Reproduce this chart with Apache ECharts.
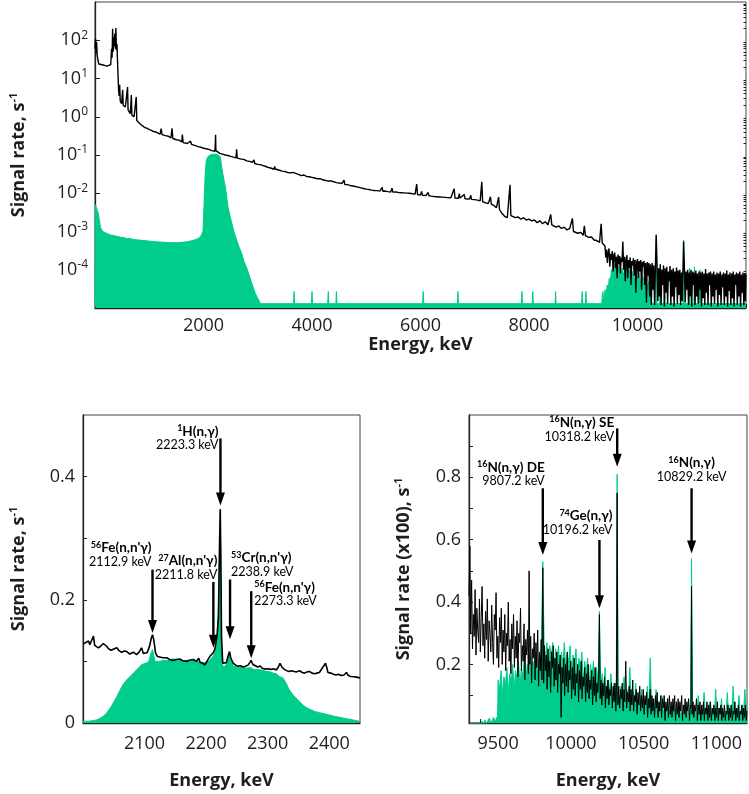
<!DOCTYPE html>
<html><head><meta charset="utf-8">
<script src="https://cdn.jsdelivr.net/npm/echarts@6/dist/echarts.min.js"></script>
<style>html,body{margin:0;padding:0;background:#fff}#c{width:749px;height:794px}</style>
</head><body><div id="c"></div><script>
// ---------- DATA ----------
// Top panel: full spectrum (energy keV, signal rate s^-1)
const topBlack = [[0,60],[10,110],[20,45],[30,90],[40,40],[55,30],[70,24],[90,22],[150,22.5],[220,21],[290,23],[305,60],[315,35],[325,200],[335,50],[345,120],[355,70],[365,150],[375,60],[385,210],[395,55],[405,80],[415,30],[425,12],[435,5],[445,3.5],[455,6.9],[465,2.6],[490,2.2],[510,5.1],[520,2.0],[560,1.8],[590,1.6],[600,6.0],[610,1.5],[650,1.2],[670,3.7],[680,1.1],[720,1.0],[760,3.3],[770,0.8],[810,0.7],[850,0.62],[880,0.65],[920,0.52],[960,0.5],[1000,0.46],[1040,0.44],[1080,0.41],[1120,0.4],[1150,0.37],[1200,0.35],[1220,0.49],[1235,0.34],[1300,0.32],[1350,0.31],[1400,0.28],[1420,0.5],[1435,0.27],[1500,0.25],[1550,0.245],[1600,0.22],[1610,0.34],[1625,0.21],[1700,0.2],[1760,0.23],[1780,0.19],[1850,0.175],[1900,0.165],[1950,0.16],[2000,0.15],[2050,0.146],[2100,0.14],[2150,0.13],[2210,0.125],[2218,0.2],[2223,0.34],[2228,0.13],[2235,0.12],[2300,0.11],[2350,0.105],[2400,0.1],[2450,0.097],[2500,0.092],[2550,0.088],[2600,0.085],[2610,0.14],[2622,0.083],[2700,0.078],[2750,0.076],[2800,0.07],[2850,0.068],[2900,0.064],[2930,0.075],[2945,0.06],[3000,0.057],[3050,0.056],[3100,0.053],[3150,0.05],[3200,0.047],[3250,0.045],[3300,0.042],[3310,0.05],[3325,0.043],[3400,0.04],[3450,0.038],[3500,0.037],[3550,0.035],[3600,0.034],[3650,0.035],[3700,0.033],[3750,0.031],[3800,0.029],[3850,0.03],[3900,0.0275],[3950,0.027],[4000,0.026],[4050,0.025],[4100,0.024],[4150,0.024],[4200,0.0225],[4250,0.0215],[4300,0.021],[4350,0.021],[4400,0.02],[4450,0.019],[4500,0.0186],[4550,0.0178],[4590,0.022],[4605,0.017],[4650,0.0168],[4700,0.016],[4750,0.0155],[4800,0.015],[4850,0.0145],[4900,0.0138],[4950,0.0133],[5000,0.0128],[5050,0.0125],[5100,0.0121],[5150,0.0118],[5200,0.0117],[5250,0.0114],[5294,0.0142],[5305,0.0113],[5350,0.0114],[5400,0.011],[5450,0.0108],[5475,0.0135],[5490,0.0107],[5550,0.0108],[5600,0.0104],[5650,0.0103],[5700,0.0102],[5750,0.0101],[5800,0.01],[5850,0.0097],[5900,0.0095],[5930,0.0174],[5945,0.0093],[6000,0.009],[6020,0.0112],[6035,0.0089],[6100,0.0087],[6140,0.0105],[6155,0.0086],[6200,0.0084],[6250,0.0082],[6300,0.0081],[6350,0.008],[6400,0.0079],[6450,0.0078],[6500,0.0077],[6560,0.0076],[6620,0.0132],[6635,0.0075],[6700,0.0074],[6715,0.0098],[6730,0.0075],[6806,0.0093],[6820,0.0072],[6850,0.0071],[6900,0.007],[6927,0.0088],[6940,0.0069],[7000,0.0068],[7050,0.0066],[7100,0.0063],[7130,0.02],[7145,0.006],[7200,0.0056],[7250,0.0054],[7290,0.0081],[7305,0.0052],[7350,0.0048],[7400,0.0042],[7440,0.0079],[7455,0.0038],[7500,0.003],[7550,0.0025],[7600,0.0023],[7650,0.0166],[7665,0.0026],[7700,0.0026],[7750,0.0023],[7800,0.0024],[7850,0.0021],[7900,0.0023],[7950,0.002],[8000,0.0021],[8050,0.0019],[8100,0.002],[8150,0.0017],[8200,0.0019],[8250,0.0016],[8300,0.0018],[8350,0.0015],[8400,0.0028],[8420,0.0015],[8450,0.0016],[8500,0.0013],[8550,0.0014],[8600,0.0012],[8650,0.0013],[8700,0.0011],[8750,0.0012],[8800,0.0022],[8820,0.001],[8850,0.00105],[8900,0.0009],[8950,0.00095],[9000,0.0008],[9020,0.0014],[9040,0.00078],[9100,0.0007],[9150,0.00072],[9200,0.0006],[9250,0.00058],[9300,0.00052],[9330,0.0016],[9350,0.0005],[9400,0.00042],[9415,0.00021],[9430,0.00034],[9445,0.00015],[9460,0.00029],[9475,0.00036],[9490,0.00012],[9505,0.00026],[9520,0.00018],[9535,0.00031],[9550,9e-5],[9565,0.00024],[9580,0.00028],[9595,0.00011],[9610,0.00022],[9625,6e-5],[9640,0.00025],[9655,0.00014],[9670,0.00023],[9685,8e-5],[9700,0.00021],[9715,0.00016],[9730,0.00055],[9745,0.0001],[9760,0.00022],[9775,5e-5],[9790,0.00019],[9805,0.00024],[9820,6e-5],[9835,0.00018],[9850,0.00011],[9865,0.00021],[9880,4e-5],[9895,0.00017],[9910,0.00013],[9925,0.0002],[9940,7e-5],[9955,0.00018],[9970,2.5e-5],[9985,0.00016],[10000,0.00019],[10015,6e-5],[10030,0.00017],[10045,9e-5],[10060,0.00018],[10075,3e-5],[10090,0.00016],[10105,0.00012],[10120,0.00017],[10135,4e-5],[10150,0.00015],[10165,1.4e-5],[10180,0.00016],[10195,7e-5],[10210,0.00015],[10225,2e-5],[10240,0.00014],[10255,1.2e-5],[10270,0.00015],[10285,3e-5],[10300,0.00013],[10315,1.2e-5],[10330,0.00012],[10345,0.0008],[10360,0.00013],[10375,1.5e-5],[10390,0.00011],[10405,2e-5],[10420,0.00014],[10435,1.2e-5],[10450,0.0001],[10465,4e-5],[10480,0.00013],[10495,1.1e-5],[10510,0.00011],[10525,2.5e-5],[10540,0.00012],[10555,1.3e-5],[10570,9e-5],[10585,5e-5],[10600,0.000125],[10615,1.2e-5],[10630,0.0001],[10645,2e-5],[10660,0.00011],[10675,1.1e-5],[10690,9e-5],[10705,3.5e-5],[10720,0.000115],[10735,1.3e-5],[10750,9.5e-5],[10765,2.2e-5],[10780,0.0001],[10795,1.2e-5],[10810,8.5e-5],[10825,1.5e-5],[10850,0.00055],[10865,0.00011],[10880,1.4e-5],[10895,9e-5],[10910,3e-5],[10925,0.0001],[10940,1.2e-5],[10955,8.5e-5],[10970,2e-5],[10985,0.0001],[11000,1.1e-5],[11015,9e-5],[11030,4e-5],[11045,8.5e-5],[11060,1.2e-5],[11075,9.5e-5],[11090,2e-5],[11105,8e-5],[11120,1.3e-5],[11135,9e-5],[11150,3e-5],[11165,8.5e-5],[11180,1.1e-5],[11195,9e-5],[11210,1.8e-5],[11225,8e-5],[11240,1.2e-5],[11255,0.000105],[11270,2.5e-5],[11285,8e-5],[11300,1.2e-5],[11315,8.5e-5],[11330,4e-5],[11345,9e-5],[11360,1.1e-5],[11375,8e-5],[11390,2e-5],[11405,9e-5],[11420,1.3e-5],[11435,7.5e-5],[11450,3e-5],[11465,8.5e-5],[11480,1.1e-5],[11495,8e-5],[11510,2.2e-5],[11525,9e-5],[11540,1.2e-5],[11555,7.5e-5],[11570,3.5e-5],[11585,8.5e-5],[11600,1.2e-5],[11615,8e-5],[11630,2e-5],[11645,9.5e-5],[11660,1.1e-5],[11675,7.5e-5],[11690,2.8e-5],[11705,8.5e-5],[11720,1.2e-5],[11735,8e-5],[11750,1.8e-5],[11765,9e-5],[11780,1.1e-5],[11795,7.5e-5],[11810,4e-5],[11825,8.5e-5],[11840,1.2e-5],[11855,8e-5],[11870,2e-5],[11885,9e-5],[11900,1.1e-5],[11915,7.5e-5],[11930,2.5e-5],[11945,8.5e-5],[11960,1.2e-5],[11975,8e-5],[11990,1.5e-5],[12000,7.5e-5]];

const topGreen = [[0,1.3e-5],[8,0.005],[25,0.0042],[45,0.0045],[60,0.003],[80,0.002],[100,0.0013],[130,0.00105],[170,0.00095],[200,0.0009],[250,0.00085],[300,0.0008],[350,0.00078],[400,0.00075],[450,0.00072],[500,0.0007],[550,0.00068],[600,0.00065],[650,0.00066],[700,0.00062],[750,0.00061],[800,0.0006],[850,0.00059],[900,0.00058],[950,0.00057],[1000,0.00056],[1100,0.00054],[1200,0.00053],[1300,0.00052],[1400,0.00051],[1500,0.00051],[1600,0.00052],[1700,0.00054],[1800,0.00058],[1900,0.00065],[1950,0.00075],[1990,0.001],[2010,0.005],[2030,0.03],[2050,0.07],[2080,0.09],[2120,0.1],[2170,0.105],[2220,0.105],[2270,0.1],[2310,0.09],[2330,0.055],[2360,0.03],[2390,0.018],[2420,0.01],[2450,0.0045],[2500,0.0022],[2540,0.0013],[2570,0.0009],[2620,0.00055],[2660,0.00038],[2700,0.00028],[2750,0.00016],[2800,0.00011],[2820,0.0001],[2860,6e-5],[2900,4e-5],[2950,2.5e-5],[3000,1.8e-5],[3050,1.3e-5],[3660,1.3e-5],[3670,2.7e-5],[3680,1.3e-5],[3990,1.3e-5],[4000,2.7e-5],[4010,1.3e-5],[4290,1.3e-5],[4300,2.7e-5],[4310,1.3e-5],[4440,1.3e-5],[4450,2.7e-5],[4460,1.3e-5],[6040,1.3e-5],[6050,2.7e-5],[6060,1.3e-5],[6680,1.3e-5],[6690,2.7e-5],[6700,1.3e-5],[7860,1.3e-5],[7870,2.7e-5],[7880,1.3e-5],[8060,1.3e-5],[8070,2.7e-5],[8080,1.3e-5],[8480,1.3e-5],[8490,2.7e-5],[8500,1.3e-5],[8970,1.3e-5],[8980,2.7e-5],[8990,1.3e-5],[9040,1.3e-5],[9050,2.7e-5],[9060,1.3e-5],[9340,1.3e-5],[9360,2.7e-5],[9380,1.5e-5],[9400,3e-5],[9420,2e-5],[9440,4e-5],[9460,3e-5],[9480,6e-5],[9500,5e-5],[9520,0.0001],[9540,8e-5],[9560,0.00015],[9580,0.00012],[9600,0.00015],[9620,0.0001],[9640,0.00013],[9660,8e-5],[9680,0.00012],[9700,9e-5],[9720,0.00011],[9740,7e-5],[9760,0.0001],[9780,8e-5],[9800,0.00012],[9820,7e-5],[9850,0.0001],[9880,6e-5],[9910,9e-5],[9940,5e-5],[9970,8e-5],[10000,6e-5],[10030,8e-5],[10060,4e-5],[10090,7e-5],[10120,5e-5],[10150,6e-5],[10180,3.5e-5],[10210,5e-5],[10240,2e-5],[10270,1.3e-5],[10335,1.3e-5],[10345,0.00085],[10355,1.3e-5],[10410,1.3e-5],[10420,4e-5],[10430,1.3e-5],[10490,1.3e-5],[10500,3e-5],[10510,1.3e-5],[10840,1.3e-5],[10850,0.0006],[10860,1.3e-5],[10950,1.3e-5],[10960,0.00011],[10970,1.3e-5],[11040,1.3e-5],[11050,0.00012],[11060,1.3e-5],[11140,1.3e-5],[11150,0.0001],[11160,1.3e-5],[12000,1.3e-5]];

// Bottom-left: 2000-2450 keV (linear)
const hBlack = [[2000,0.128],[2003,0.129],[2009,0.133],[2011,0.127],[2014,0.13],[2017,0.141],[2019,0.126],[2022,0.124],[2025,0.122],[2029,0.125],[2033,0.129],[2038,0.125],[2042,0.12],[2046,0.118],[2050,0.12],[2055,0.122],[2059,0.117],[2063,0.1146],[2067,0.117],[2071,0.116],[2076,0.112],[2079,0.114],[2082,0.115],[2087,0.111],[2091,0.115],[2095,0.122],[2098,0.113],[2100,0.112],[2104,0.114],[2106,0.113],[2108,0.124],[2111,0.138],[2113,0.1434],[2115,0.135],[2118,0.113],[2121,0.108],[2125,0.107],[2130,0.106],[2136,0.106],[2141,0.103],[2146,0.1016],[2151,0.103],[2157,0.104],[2162,0.101],[2168,0.1],[2173,0.102],[2179,0.103],[2184,0.1],[2188,0.105],[2190,0.0986],[2194,0.097],[2198,0.0945],[2203,0.103],[2206,0.108],[2209,0.111],[2212,0.115],[2214,0.119],[2216,0.13],[2218,0.145],[2220,0.17],[2221,0.24],[2222,0.3],[2223,0.347],[2224,0.26],[2225,0.14],[2227,0.097],[2230,0.094],[2233,0.098],[2235.5,0.108],[2238,0.116],[2240,0.106],[2244,0.097],[2248,0.094],[2252,0.092],[2256,0.093],[2260,0.091],[2264,0.092],[2268,0.094],[2271,0.098],[2273,0.1016],[2276,0.095],[2279,0.092],[2284,0.091],[2288,0.0925],[2291,0.089],[2295,0.0875],[2300,0.088],[2306,0.087],[2310,0.088],[2314,0.086],[2317,0.09],[2320,0.097],[2323,0.091],[2327,0.087],[2331,0.085],[2335,0.0837],[2339,0.085],[2343,0.0837],[2347,0.083],[2352,0.085],[2356,0.082],[2360,0.081],[2364,0.083],[2368,0.0837],[2372,0.081],[2376,0.08],[2380,0.081],[2384,0.082],[2388,0.088],[2391,0.086],[2394,0.097],[2396,0.09],[2398,0.082],[2403,0.081],[2407,0.079],[2411,0.078],[2415,0.079],[2419,0.077],[2424,0.078],[2428,0.082],[2431,0.077],[2435,0.0755],[2440,0.075],[2444,0.0745],[2450,0.0733]];

const hGreen = [[2000,0.002],[2005,0.003],[2010,0.003],[2017,0.004],[2022,0.005],[2028,0.0076],[2033,0.011],[2038,0.016],[2042,0.021],[2046,0.027],[2050,0.034],[2055,0.043],[2059,0.051],[2063,0.059],[2067,0.065],[2071,0.07],[2075,0.074],[2079,0.078],[2083,0.082],[2087,0.0864],[2091,0.09],[2095,0.0945],[2099,0.096],[2103,0.0973],[2107,0.1],[2110,0.112],[2113,0.119],[2115,0.11],[2117,0.1],[2121,0.1],[2125,0.1],[2130,0.102],[2136,0.101],[2141,0.103],[2146,0.104],[2152,0.102],[2157,0.103],[2163,0.101],[2168,0.102],[2174,0.1],[2179,0.102],[2185,0.1],[2190,0.099],[2196,0.098],[2201,0.0986],[2205,0.101],[2208,0.104],[2211,0.108],[2214,0.115],[2216,0.122],[2218,0.14],[2220,0.19],[2221,0.2],[2222,0.3],[2223,0.347],[2224,0.25],[2225,0.13],[2227,0.092],[2231,0.092],[2235,0.1],[2238,0.113],[2241,0.1],[2244,0.092],[2250,0.091],[2255,0.09],[2260,0.09],[2266,0.089],[2272,0.09],[2277,0.087],[2283,0.087],[2290,0.086],[2298,0.0837],[2304,0.083],[2309,0.081],[2314,0.08],[2317,0.0788],[2319,0.0755],[2322,0.075],[2325,0.073],[2330,0.0647],[2335,0.0538],[2341,0.0457],[2349,0.0375],[2357,0.0293],[2363,0.025],[2368,0.0223],[2376,0.019],[2384,0.0168],[2392,0.015],[2400,0.013],[2408,0.011],[2417,0.0092],[2425,0.0075],[2433,0.006],[2441,0.0045],[2450,0.0027]];

// Bottom-right: 9300-11210 keV (linear, x100)
const nBlack = [[9300,0.42],[9306,0.58],[9312,0.3],[9318,0.47],[9324,0.25],[9330,0.36],[9336,0.29],[9342,0.44],[9348,0.23],[9354,0.38],[9360,0.31],[9366,0.27],[9372,0.41],[9378,0.24],[9384,0.35],[9390,0.45],[9396,0.26],[9402,0.33],[9408,0.22],[9414,0.37],[9420,0.28],[9426,0.41],[9432,0.21],[9438,0.34],[9444,0.3],[9450,0.24],[9456,0.39],[9462,0.27],[9468,0.2],[9474,0.36],[9480,0.31],[9486,0.43],[9492,0.22],[9498,0.29],[9504,0.19],[9510,0.35],[9516,0.27],[9522,0.38],[9528,0.2],[9534,0.31],[9540,0.24],[9546,0.36],[9552,0.18],[9558,0.3],[9564,0.26],[9570,0.4],[9576,0.21],[9582,0.28],[9588,0.17],[9594,0.33],[9600,0.25],[9606,0.36],[9612,0.19],[9618,0.29],[9624,0.22],[9630,0.34],[9636,0.16],[9642,0.3],[9648,0.27],[9654,0.38],[9660,0.18],[9666,0.26],[9672,0.21],[9678,0.33],[9684,0.15],[9690,0.28],[9696,0.23],[9702,0.31],[9708,0.17],[9713,0.5],[9718,0.2],[9724,0.29],[9730,0.14],[9736,0.25],[9742,0.22],[9748,0.3],[9754,0.15],[9760,0.27],[9766,0.19],[9772,0.31],[9778,0.13],[9784,0.24],[9790,0.18],[9796,0.28],[9801,0.15],[9807,0.51],[9813,0.14],[9819,0.26],[9825,0.18],[9831,0.23],[9837,0.12],[9843,0.25],[9849,0.16],[9855,0.21],[9861,0.11],[9867,0.24],[9873,0.19],[9879,0.26],[9885,0.13],[9891,0.22],[9897,0.15],[9903,0.24],[9909,0.11],[9915,0.2],[9921,0.17],[9927,0.23],[9933,0.03],[9939,0.19],[9945,0.14],[9951,0.22],[9957,0.1],[9963,0.2],[9969,0.13],[9975,0.24],[9981,0.11],[9987,0.18],[9993,0.15],[9999,0.21],[10005,0.09],[10011,0.19],[10017,0.12],[10023,0.22],[10029,0.1],[10035,0.17],[10041,0.14],[10047,0.2],[10053,0.08],[10059,0.18],[10065,0.12],[10071,0.21],[10077,0.09],[10083,0.16],[10089,0.13],[10095,0.19],[10101,0.08],[10107,0.17],[10113,0.11],[10119,0.2],[10125,0.09],[10131,0.15],[10137,0.12],[10143,0.18],[10149,0.07],[10155,0.16],[10161,0.1],[10167,0.19],[10173,0.08],[10179,0.14],[10185,0.11],[10191,0.17],[10196,0.36],[10201,0.09],[10207,0.15],[10213,0.07],[10219,0.14],[10225,0.1],[10231,0.16],[10237,0.06],[10243,0.13],[10249,0.09],[10255,0.15],[10261,0.07],[10267,0.12],[10273,0.1],[10279,0.14],[10285,0.06],[10291,0.13],[10297,0.08],[10303,0.14],[10309,0.05],[10313,0.12],[10318,0.75],[10323,0.07],[10329,0.13],[10335,0.06],[10341,0.12],[10347,0.09],[10353,0.14],[10359,0.05],[10365,0.12],[10371,0.08],[10377,0.21],[10383,0.06],[10389,0.11],[10395,0.08],[10401,0.13],[10407,0.05],[10413,0.12],[10419,0.07],[10425,0.15],[10431,0.05],[10437,0.1],[10443,0.08],[10449,0.12],[10455,0.04],[10461,0.11],[10467,0.07],[10473,0.13],[10479,0.05],[10485,0.1],[10491,0.06],[10497,0.12],[10503,0.04],[10509,0.1],[10515,0.07],[10521,0.11],[10527,0.03],[10533,0.09],[10539,0.06],[10545,0.12],[10551,0.04],[10557,0.1],[10563,0.05],[10569,0.09],[10575,0.03],[10581,0.1],[10587,0.06],[10593,0.11],[10599,0.03],[10605,0.08],[10611,0.05],[10617,0.1],[10623,0.03],[10629,0.09],[10635,0.06],[10641,0.1],[10647,0.02],[10653,0.08],[10659,0.05],[10665,0.09],[10671,0.03],[10677,0.1],[10683,0.04],[10689,0.08],[10695,0.03],[10701,0.09],[10707,0.05],[10713,0.1],[10719,0.02],[10725,0.08],[10731,0.04],[10737,0.09],[10743,0.03],[10749,0.08],[10755,0.05],[10761,0.1],[10767,0.02],[10773,0.07],[10779,0.04],[10785,0.09],[10791,0.03],[10797,0.08],[10803,0.05],[10809,0.09],[10815,0.02],[10821,0.07],[10825,0.06],[10829,0.45],[10833,0.04],[10839,0.08],[10845,0.03],[10851,0.07],[10857,0.05],[10863,0.09],[10869,0.02],[10875,0.07],[10881,0.04],[10887,0.08],[10893,0.02],[10899,0.07],[10905,0.04],[10911,0.08],[10917,0.02],[10923,0.06],[10929,0.04],[10935,0.08],[10941,0.02],[10947,0.07],[10953,0.03],[10959,0.08],[10965,0.02],[10971,0.06],[10977,0.04],[10983,0.07],[10989,0.02],[10995,0.06],[11001,0.03],[11007,0.08],[11013,0.02],[11019,0.06],[11025,0.04],[11031,0.07],[11037,0.02],[11043,0.06],[11049,0.03],[11055,0.07],[11061,0.02],[11067,0.05],[11073,0.04],[11079,0.07],[11085,0.02],[11091,0.06],[11097,0.03],[11103,0.07],[11109,0.02],[11115,0.05],[11121,0.04],[11127,0.08],[11133,0.02],[11139,0.06],[11145,0.03],[11151,0.07],[11157,0.02],[11163,0.05],[11169,0.04],[11175,0.07],[11181,0.02],[11187,0.06],[11193,0.03],[11199,0.07],[11205,0.02],[11210,0.05]];

const nGreen = [[9300,0.005],[9310,0.012],[9320,0.003],[9330,0.008],[9340,0.004],[9350,0.015],[9360,0.006],[9370,0.01],[9380,0.004],[9390,0.018],[9400,0.008],[9410,0.022],[9420,0.01],[9430,0.015],[9440,0.028],[9450,0.012],[9460,0.02],[9470,0.03],[9480,0.015],[9490,0.03],[9496,0.02],[9500,0.15],[9510,0.12],[9520,0.18],[9530,0.1],[9540,0.16],[9550,0.13],[9560,0.19],[9570,0.11],[9580,0.17],[9590,0.14],[9600,0.2],[9610,0.12],[9620,0.18],[9630,0.15],[9640,0.21],[9650,0.13],[9660,0.19],[9670,0.16],[9680,0.22],[9690,0.14],[9700,0.2],[9710,0.17],[9720,0.23],[9730,0.15],[9740,0.21],[9750,0.18],[9760,0.24],[9770,0.16],[9780,0.22],[9790,0.2],[9797,0.25],[9807,0.53],[9817,0.24],[9825,0.2],[9835,0.27],[9845,0.19],[9855,0.26],[9865,0.22],[9875,0.27],[9885,0.18],[9895,0.25],[9905,0.21],[9915,0.26],[9925,0.17],[9935,0.24],[9945,0.2],[9955,0.27],[9965,0.18],[9975,0.23],[9985,0.21],[9995,0.26],[10005,0.16],[10015,0.23],[10025,0.19],[10035,0.25],[10045,0.15],[10055,0.22],[10065,0.18],[10075,0.24],[10085,0.14],[10095,0.21],[10105,0.17],[10115,0.22],[10125,0.13],[10135,0.2],[10145,0.16],[10155,0.21],[10165,0.12],[10175,0.19],[10187,0.15],[10196,0.37],[10205,0.12],[10215,0.17],[10225,0.1],[10235,0.19],[10245,0.09],[10255,0.15],[10265,0.11],[10275,0.17],[10285,0.08],[10295,0.14],[10305,0.1],[10312,0.15],[10318,0.81],[10324,0.12],[10335,0.07],[10345,0.13],[10355,0.09],[10365,0.16],[10375,0.06],[10385,0.12],[10395,0.08],[10405,0.19],[10415,0.07],[10425,0.11],[10435,0.05],[10445,0.14],[10455,0.06],[10465,0.1],[10475,0.05],[10485,0.12],[10495,0.04],[10505,0.09],[10515,0.06],[10525,0.13],[10535,0.04],[10545,0.22],[10555,0.05],[10565,0.09],[10575,0.03],[10585,0.12],[10595,0.04],[10605,0.08],[10615,0.03],[10625,0.1],[10635,0.04],[10645,0.07],[10655,0.02],[10665,0.09],[10675,0.03],[10685,0.06],[10695,0.02],[10705,0.08],[10715,0.03],[10725,0.06],[10735,0.02],[10745,0.07],[10755,0.03],[10765,0.05],[10775,0.02],[10785,0.07],[10795,0.03],[10805,0.05],[10815,0.02],[10822,0.08],[10829,0.54],[10836,0.07],[10845,0.02],[10855,0.06],[10865,0.03],[10875,0.1],[10885,0.02],[10895,0.05],[10905,0.03],[10915,0.11],[10925,0.02],[10935,0.06],[10945,0.03],[10955,0.08],[10965,0.02],[10975,0.05],[10985,0.03],[10995,0.12],[11005,0.02],[11015,0.06],[11025,0.03],[11035,0.09],[11045,0.02],[11055,0.05],[11065,0.03],[11075,0.11],[11085,0.02],[11095,0.07],[11105,0.03],[11115,0.13],[11125,0.02],[11135,0.06],[11145,0.04],[11155,0.1],[11165,0.02],[11175,0.07],[11185,0.03],[11195,0.12],[11205,0.04],[11210,0.06]];

// Tick label / tick arrays
const topXLabels = [2000,4000,6000,8000,10000];
const topXTicks = [0,500,1000,1500,2000,2500,3000,3500,4000,4500,5000,5500,6000,6500,7000,7500,8000,8500,9000,9500,10000,10500,11000,11500,12000];
const topYLabels = [1e-4,1e-3,1e-2,1e-1,1,10,100];
const hXLabels = [2100,2200,2300,2400];
const hXTicks = [2025,2050,2075,2100,2125,2150,2175,2200,2225,2250,2275,2300,2325,2350,2375,2400,2425];
const hYLabels = [0,0.2,0.4];
const hYTicks = [0.1,0.2,0.3,0.4];
const nXLabels = [9500,10000,10500,11000];
const nXTicks = [9375,9500,9625,9750,9875,10000,10125,10250,10375,10500,10625,10750,10875,11000,11125];
const nYLabels = [0.2,0.4,0.6,0.8];
const nYTicks = [0.1,0.2,0.3,0.4,0.5,0.6,0.7,0.8,0.9];

// Annotations (peak energy, label lines)
const hAnn = [
  {e:2112.9, iso:'56', el:"Fe(n,n'γ)", kev:'2112.9 keV', top:0.249, tip:0.146, lab:0.251, align:'right', dx:-1},
  {e:2211.8, iso:'27', el:"Al(n,n'γ)", kev:'2211.8 keV', top:0.229, tip:0.122, lab:0.230, align:'right', dx:4},
  {e:2223.3, iso:'1', el:'H(n,γ)', kev:'2223.3 keV', top:0.462, tip:0.353, lab:0.440, align:'right', dx:-2},
  {e:2238.9, iso:'53', el:"Cr(n,n'γ)", kev:'2238.9 keV', top:0.233, tip:0.136, lab:0.235, align:'left', dx:1},
  {e:2273.3, iso:'56', el:"Fe(n,n'γ)", kev:'2273.3 keV', top:0.214, tip:0.105, lab:0.187, align:'left', dx:3}
];
const nAnn = [
  {e:9807.2, iso:'16', el:'N(n,γ) DE', kev:'9807.2 keV', top:0.765, tip:0.551, lab:0.766, align:'right', dx:2},
  {e:10196.2, iso:'74', el:'Ge(n,γ)', kev:'10196.2 keV', top:0.599, tip:0.38, lab:0.611, align:'right', dx:13},
  {e:10318.2, iso:'16', el:'N(n,γ) SE', kev:'10318.2 keV', top:0.957, tip:0.834, lab:0.91, align:'right', dx:-3},
  {e:10829.2, iso:'16', el:'N(n,γ)', kev:'10829.2 keV', top:0.765, tip:0.556, lab:0.78, align:'center', dx:0}
];

// ---------- CHART ----------
const GREEN = '#00cc8c';
const FONT = '"Open Sans", Lato, sans-serif';
const TXT = '#1e1e1e';
const titleRich = {
  t:{fontSize:18, fontWeight:'bold', fontFamily:FONT, color:TXT},
  s:{fontSize:11, fontWeight:'bold', fontFamily:FONT, color:TXT, padding:[0,0,10,0]}
};
function plain(v){ return String(v); }
function xAxis(grid, min, max, labels, ticks, gap, margin){
  return {type:'value', gridIndex:grid, min:min, max:max,
    name:'Energy, keV', nameLocation:'middle', nameGap:gap,
    nameTextStyle:{fontSize:18, fontWeight:'bold', fontFamily:FONT, color:TXT},
    axisLine:{show:true, lineStyle:{color:'#222', width:1.3}},
    axisTick:{show:true, inside:true, length:4, customValues:ticks, lineStyle:{color:'#222'}},
    axisLabel:{customValues:labels, fontSize:18, fontFamily:FONT, color:TXT, margin:margin, formatter:plain},
    splitLine:{show:false}};
}
function yAxis(grid, min, max, labels, ticks, name, gap){
  return {type:'value', gridIndex:grid, min:min, max:max,
    name:name, nameLocation:'middle', nameGap:gap,
    nameTextStyle:{rich:titleRich},
    axisLine:{show:true, lineStyle:{color:'#222', width:1.3}},
    axisTick:{show:true, inside:true, length:4, customValues:ticks, lineStyle:{color:'#222'}},
    axisLabel:{customValues:labels, fontSize:18, fontFamily:FONT, color:TXT, margin:8, formatter:plain},
    splitLine:{show:false}};
}
const minorLog = [];
for (let d=-5; d<3; d++) for (let m=2; m<10; m++) minorLog.push(m*Math.pow(10,d));

const option = {
  animation:false,
  backgroundColor:'#fff',
  grid:[
    {left:85, top:2, width:661, height:306, show:true, borderColor:'#444', borderWidth:1},
    {left:83, top:415, width:277, height:308, show:true, borderColor:'#444', borderWidth:1},
    {left:469, top:415, width:278, height:308, show:true, borderColor:'#444', borderWidth:1}
  ],
  xAxis:[
    xAxis(0, 0, 12000, topXLabels, topXTicks, 21, 9),
    xAxis(1, 2000, 2450, hXLabels, hXTicks, 49, 12),
    xAxis(2, 9300, 11210, nXLabels, nXTicks, 49, 12)
  ],
  yAxis:[
    {type:'log', logBase:10, gridIndex:0, min:1e-5, max:1e3,
      name:'{t|Signal rate, s}{s|-1}', nameLocation:'middle', nameGap:66,
      nameTextStyle:{rich:titleRich},
      axisLine:{show:true, lineStyle:{color:'#222', width:1.3}},
      axisTick:{show:true, inside:true, length:5, customValues:topYLabels, lineStyle:{color:'#222'}},
      axisLabel:{customValues:topYLabels, margin:7, formatter:function(v){
        const e = Math.round(Math.log10(v)); return '{b|10}{p|' + e + '}'; },
        rich:{b:{fontSize:18, fontFamily:FONT, color:TXT}, p:{fontSize:12, fontFamily:FONT, color:TXT, padding:[0,0,10,0]}}},
      splitLine:{show:false}},
    {type:'log', logBase:10, gridIndex:0, min:1e-5, max:1e3,
      axisLine:{show:false}, axisLabel:{show:false}, splitLine:{show:false},
      axisTick:{show:true, inside:true, length:2.5, customValues:minorLog, lineStyle:{color:'#222'}}},
    yAxis(1, 0, 0.5, hYLabels, hYTicks, '{t|Signal rate, s}{s|-1}', 54),
    yAxis(2, 0.012, 1, nYLabels, nYTicks, '{t|Signal rate (x100), s}{s|-1}', 55)
  ],
  series:[
    {type:'line', xAxisIndex:0, yAxisIndex:0, data:topGreen, showSymbol:false, silent:true,
      lineStyle:{color:GREEN, width:1}, areaStyle:{color:GREEN, opacity:1, origin:'start'}, z:2},
    {type:'line', xAxisIndex:0, yAxisIndex:0, data:topBlack, showSymbol:false, silent:true,
      lineStyle:{color:'#000', width:1.4}, z:3},
    {type:'line', xAxisIndex:1, yAxisIndex:2, data:hGreen, showSymbol:false, silent:true,
      lineStyle:{color:GREEN, width:1}, areaStyle:{color:GREEN, opacity:1, origin:'start'}, z:2},
    {type:'line', xAxisIndex:1, yAxisIndex:2, data:hBlack, showSymbol:false, silent:true,
      lineStyle:{color:'#000', width:1.6}, z:3},
    {type:'line', xAxisIndex:2, yAxisIndex:3, data:nGreen, showSymbol:false, silent:true,
      lineStyle:{color:GREEN, width:1}, areaStyle:{color:GREEN, opacity:1, origin:'start'}, z:2},
    {type:'line', xAxisIndex:2, yAxisIndex:3, data:nBlack, showSymbol:false, silent:true,
      lineStyle:{color:'#000', width:1}, z:3}
  ]
};
const chart = echarts.init(document.getElementById('c'), null, {renderer:'canvas'});
chart.setOption(option);

const annRich = {
  s:{fontSize:9, fontFamily:'Lato, sans-serif', fontWeight:'bold', color:'#222', padding:[0,0,6,0]},
  n:{fontSize:13.5, fontFamily:'Lato, sans-serif', fontWeight:'bold', color:'#222'},
  k:{fontSize:12.5, fontFamily:'Lato, sans-serif', color:'#444', lineHeight:13}
};
function buildAnn(gridIndex, list){
  const els = [];
  list.forEach(function(a){
    const p1 = chart.convertToPixel({gridIndex:gridIndex}, [a.e, a.top]);
    const p2 = chart.convertToPixel({gridIndex:gridIndex}, [a.e, a.tip]);
    const p3 = chart.convertToPixel({gridIndex:gridIndex}, [a.e, a.lab]);
    const x = p1[0];
    els.push({type:'line', z:100, shape:{x1:x, y1:p1[1], x2:x, y2:p2[1]-10}, style:{stroke:'#000', lineWidth:2.4}});
    els.push({type:'polygon', z:100, shape:{points:[[x-4.5,p2[1]-13],[x+4.5,p2[1]-13],[x,p2[1]]]}, style:{fill:'#000'}});
    els.push({type:'text', z:100, x:x+a.dx, y:p3[1], style:{
      text:'{s|' + a.iso + '}{n|' + a.el + '}\n{k|' + a.kev + '}',
      align:a.align, verticalAlign:'bottom', rich:annRich}});
  });
  return els;
}
chart.setOption({graphic:{elements: buildAnn(1, hAnn).concat(buildAnn(2, nAnn))}});
</script></body></html>
